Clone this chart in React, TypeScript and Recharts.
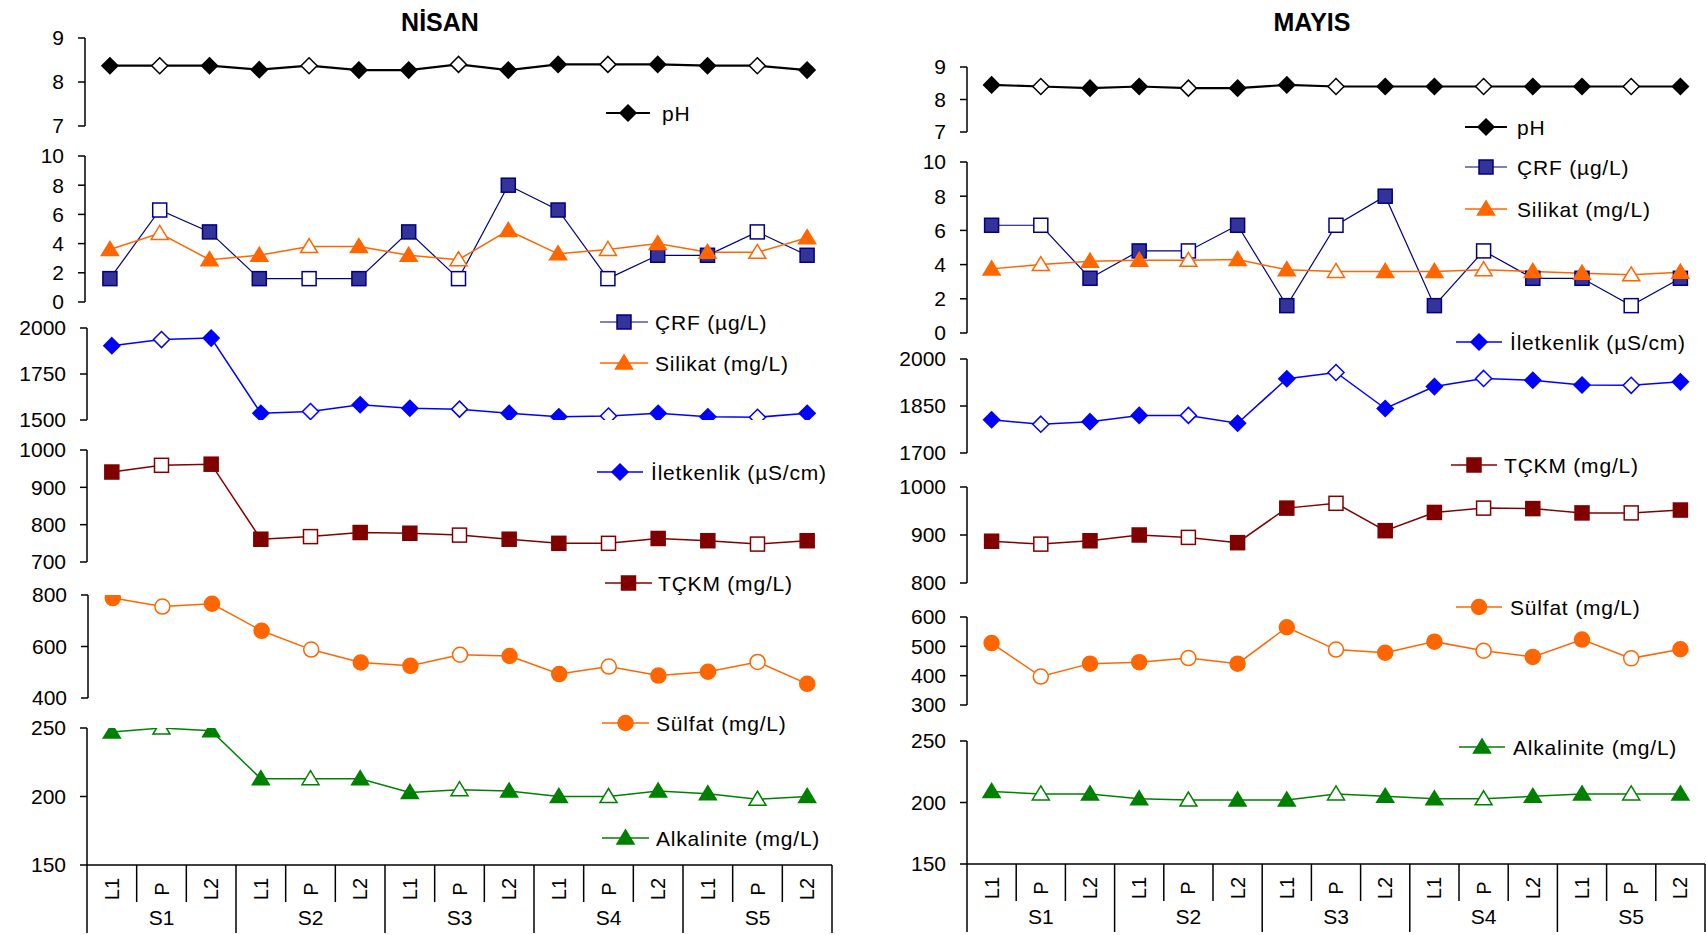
import React from 'react';
import { LineChart, Line, XAxis, YAxis } from 'recharts';

const FONT = "Arial, 'Liberation Sans', sans-serif";

const categories = ['L1', 'P', 'L2', 'L1', 'P', 'L2', 'L1', 'P', 'L2', 'L1', 'P', 'L2', 'L1', 'P', 'L2'];
const groups = ['S1', 'S2', 'S3', 'S4', 'S5'];
const titles = ['NİSAN', 'MAYIS'];
const seriesNames = ['pH', 'ÇRF (µg/L)', 'Silikat (mg/L)', 'İletkenlik (µS/cm)', 'TÇKM (mg/L)', 'Sülfat (mg/L)', 'Alkalinite (mg/L)'];

// NİSAN
const nisanPH = [8.37, 8.37, 8.37, 8.28, 8.37, 8.27, 8.27, 8.4, 8.27, 8.4, 8.4, 8.4, 8.37, 8.37, 8.27];
const nisanCRF = [1.6, 6.3, 4.8, 1.6, 1.6, 1.6, 4.8, 1.6, 8.0, 6.3, 1.6, 3.2, 3.2, 4.8, 3.2];
const nisanSilikat = [3.6, 4.7, 2.9, 3.2, 3.8, 3.8, 3.2, 2.9, 4.9, 3.3, 3.6, 4.0, 3.4, 3.4, 4.4];
const nisanIletkenlik = [1904, 1937, 1945, 1537, 1546, 1583, 1564, 1559, 1537, 1518, 1522, 1537, 1518, 1515, 1537];
const nisanTCKM = [941, 959, 962, 761, 768, 779, 777, 772, 761, 750, 750, 763, 757, 748, 757];
const nisanSulfat = [788, 755, 766, 661, 588, 538, 525, 568, 563, 493, 522, 487, 502, 540, 455];
const nisanAlkalinite = [247, 250, 248, 213, 213, 213, 203, 205, 204, 200, 200, 204, 202, 198, 200];

// MAYIS
const mayisPH = [8.45, 8.4, 8.35, 8.4, 8.35, 8.35, 8.45, 8.4, 8.4, 8.4, 8.4, 8.4, 8.4, 8.4, 8.4];
const mayisCRF = [6.3, 6.3, 3.2, 4.8, 4.8, 6.3, 1.6, 6.3, 8.0, 1.6, 4.8, 3.2, 3.2, 1.6, 3.2];
const mayisSilikat = [3.75, 4.0, 4.2, 4.25, 4.25, 4.3, 3.7, 3.6, 3.6, 3.6, 3.7, 3.6, 3.5, 3.4, 3.55];
const mayisIletkenlik = [1806, 1792, 1800, 1820, 1820, 1795, 1937, 1957, 1842, 1912, 1938, 1932, 1917, 1916, 1927];
const mayisTCKM = [887, 881, 888, 900, 895, 884, 956, 966, 909, 947, 956, 955, 946, 946, 952];
const mayisSulfat = [511, 397, 441, 446, 460, 441, 565, 489, 478, 516, 485, 464, 523, 459, 490];
const mayisAlkalinite = [209, 207, 207, 203, 202, 202, 202, 207, 205, 203, 203, 205, 207, 207, 207];

// tick values
const phTicks = [7, 8, 9];
const crfTicks = [0, 2, 4, 6, 8, 10];
const nisanIletTicks = [1500, 1750, 2000];
const nisanTckmTicks = [700, 800, 900, 1000];
const nisanSulfatTicks = [400, 600, 800];
const mayisIletTicks = [1700, 1850, 2000];
const mayisTckmTicks = [800, 900, 1000];
const mayisSulfatTicks = [300, 400, 500, 600];
const alkTicks = [150, 200, 250];

type Shape = 'diamond' | 'square' | 'triangle' | 'circle';
interface Style { shape: Shape; line: string; fill: string; edge: string; width: number; }

const styles: Style[] = [
  { shape: 'diamond', line: '#000000', fill: '#000000', edge: '#000000', width: 2.2 },
  { shape: 'square', line: '#000080', fill: '#333399', edge: '#000080', width: 1.2 },
  { shape: 'triangle', line: '#FF6600', fill: '#FF6600', edge: '#FF6600', width: 1.5 },
  { shape: 'diamond', line: '#0000FF', fill: '#0000FF', edge: '#0000FF', width: 1.5 },
  { shape: 'square', line: '#800000', fill: '#800000', edge: '#800000', width: 1.5 },
  { shape: 'circle', line: '#FF6600', fill: '#FF6600', edge: '#FF6600', width: 1.5 },
  { shape: 'triangle', line: '#008000', fill: '#008000', edge: '#008000', width: 1.5 },
];

function Marker({ cx, cy, st, hollow }: { cx: number; cy: number; st: Style; hollow: boolean }) {
  const fill = hollow ? '#FFFFFF' : st.fill;
  const stroke = st.edge;
  const sw = 1.5;
  if (st.shape === 'diamond') {
    const s = 8;
    return <polygon points={`${cx},${cy - s} ${cx + s},${cy} ${cx},${cy + s} ${cx - s},${cy}`} fill={fill} stroke={stroke} strokeWidth={sw} />;
  }
  if (st.shape === 'square') {
    const s = 7;
    return <rect x={cx - s} y={cy - s} width={2 * s} height={2 * s} fill={fill} stroke={stroke} strokeWidth={sw} />;
  }
  if (st.shape === 'triangle') {
    return <polygon points={`${cx},${cy - 8} ${cx + 8.5},${cy + 6} ${cx - 8.5},${cy + 6}`} fill={fill} stroke={stroke} strokeWidth={sw} />;
  }
  return <circle cx={cx} cy={cy} r={7.5} fill={fill} stroke={stroke} strokeWidth={sw} />;
}

interface ChartDef {
  x0: number; yTop: number; yBot: number; ticks: number[];
  series: { values: number[]; style: number }[];
  showX?: boolean;
}

const panels = [
  {
    left: 0, x1: 832,
    charts: [
      { x0: 85, yTop: 38, yBot: 126, ticks: phTicks, series: [{ values: nisanPH, style: 0 }] },
      { x0: 85, yTop: 156, yBot: 302, ticks: crfTicks, series: [{ values: nisanCRF, style: 1 }, { values: nisanSilikat, style: 2 }] },
      { x0: 87, yTop: 328, yBot: 420, ticks: nisanIletTicks, series: [{ values: nisanIletkenlik, style: 3 }] },
      { x0: 87, yTop: 450, yBot: 562, ticks: nisanTckmTicks, series: [{ values: nisanTCKM, style: 4 }] },
      { x0: 88, yTop: 595, yBot: 698, ticks: nisanSulfatTicks, series: [{ values: nisanSulfat, style: 5 }] },
      { x0: 87, yTop: 728, yBot: 865, ticks: alkTicks, series: [{ values: nisanAlkalinite, style: 6 }], showX: true },
    ] as ChartDef[],
  },
  {
    left: 860, x1: 1705,
    charts: [
      { x0: 967, yTop: 67, yBot: 132, ticks: phTicks, series: [{ values: mayisPH, style: 0 }] },
      { x0: 967, yTop: 162, yBot: 333, ticks: crfTicks, series: [{ values: mayisCRF, style: 1 }, { values: mayisSilikat, style: 2 }] },
      { x0: 967, yTop: 359, yBot: 453, ticks: mayisIletTicks, series: [{ values: mayisIletkenlik, style: 3 }] },
      { x0: 967, yTop: 487, yBot: 583, ticks: mayisTckmTicks, series: [{ values: mayisTCKM, style: 4 }] },
      { x0: 967, yTop: 617, yBot: 705, ticks: mayisSulfatTicks, series: [{ values: mayisSulfat, style: 5 }] },
      { x0: 967, yTop: 741, yBot: 864, ticks: alkTicks, series: [{ values: mayisAlkalinite, style: 6 }], showX: true },
    ] as ChartDef[],
  },
];

// legend placement: [panel][series] -> line start, line end, text x, y
const legendPos = [
  [
    [606, 650, 662, 113], [600, 648, 655, 322], [600, 648, 655, 363], [597, 643, 651, 472],
    [605, 652, 658, 583], [602, 649, 656, 723], [602, 649, 656, 838],
  ],
  [
    [1465, 1507, 1517, 127], [1465, 1507, 1517, 167], [1465, 1507, 1517, 209], [1456, 1502, 1510, 342],
    [1451, 1497, 1504, 465], [1456, 1502, 1510, 607], [1459, 1505, 1513, 747],
  ],
];
const titlePos = [[440, 22], [1312, 22]];

const MT = 14;
const XH = 72;

function SubChart({ def, left, x1 }: { def: ChartDef; left: number; x1: number }) {
  const plotH = def.yBot - def.yTop;
  const mb = def.showX ? 0 : 14;
  const height = MT + plotH + (def.showX ? XH : mb);
  const rightMargin = 2;
  const width = x1 - left + rightMargin;
  const bw = (x1 - def.x0) / categories.length;
  const axisY = MT + plotH;
  const data = categories.map((c, i) => {
    const row: any = { cat: c };
    def.series.forEach((s, k) => { row['v' + k] = s.values[i]; });
    return row;
  });
  const n = categories.length;
  const renderTick = (p: any) => {
    const { x, index, payload } = p;
    const l = x - bw / 2;
    const r = x + bw / 2;
    const groupStart = index % 3 === 0;
    return (
      <g key={'t' + index}>
        <line x1={l} x2={l} y1={axisY} y2={axisY + (groupStart ? 68 : 37)} stroke="#000" strokeWidth={1.5} />
        {index === n - 1 && <line x1={r} x2={r} y1={axisY} y2={axisY + 68} stroke="#000" strokeWidth={1.5} />}
        <text transform={`translate(${x},${axisY + 24}) rotate(-90)`} textAnchor="middle" dominantBaseline="central" fontSize={20} fontFamily={FONT} fill="#000">{payload.value}</text>
        {index % 3 === 1 && (
          <text x={x} y={axisY + 52} textAnchor="middle" dominantBaseline="central" fontSize={21} fontFamily={FONT} fill="#000">{groups[Math.floor(index / 3)]}</text>
        )}
      </g>
    );
  };
  const tks = def.ticks;
  return (
    <div style={{ position: 'absolute', left, top: def.yTop - MT }}>
      <LineChart width={width} height={height} data={data} margin={{ top: MT, right: rightMargin, bottom: mb, left: 0 }}>
        <XAxis
          dataKey="cat"
          hide={!def.showX}
          padding={{ left: bw / 2, right: bw / 2 }}
          interval={0}
          height={XH}
          axisLine={{ stroke: '#000', strokeWidth: 1.5 }}
          tickLine={false}
          tick={renderTick}
        />
        <YAxis
          type="number"
          width={def.x0 - left}
          domain={[tks[0], tks[tks.length - 1]]}
          ticks={tks}
          interval={0}
          allowDataOverflow
          axisLine={{ stroke: '#000', strokeWidth: 1.5 }}
          tickLine={{ stroke: '#000', strokeWidth: 1.5 }}
          tickSize={7}
          tickMargin={14}
          tick={{ fontSize: 21, fill: '#000', fontFamily: FONT }}
        />
        {def.series.map((s, k) => {
          const st = styles[s.style];
          return (
            <Line
              key={k}
              dataKey={'v' + k}
              type="linear"
              stroke={st.line}
              strokeWidth={st.width}
              isAnimationActive={false}
              activeDot={false}
              dot={(p: any) => <Marker key={'d' + k + '-' + p.index} cx={p.cx} cy={p.cy} st={st} hollow={p.index % 3 === 1} />}
            />
          );
        })}
      </LineChart>
    </div>
  );
}

export default function App() {
  return (
    <div style={{ position: 'fixed', left: 0, top: 0, width: 1706, height: 935, background: '#FFFFFF', overflow: 'hidden', fontFamily: FONT }}>
      {panels.map((p, pi) => (
        <React.Fragment key={pi}>
          {p.charts.map((c, ci) => <SubChart key={ci} def={c} left={p.left} x1={p.x1} />)}
        </React.Fragment>
      ))}
      <svg width={1706} height={935} style={{ position: 'absolute', left: 0, top: 0, pointerEvents: 'none' }}>
        {titles.map((t, i) => (
          <text key={t} x={titlePos[i][0]} y={titlePos[i][1]} textAnchor="middle" dominantBaseline="central" fontSize={25} fontWeight="bold" fontFamily={FONT} fill="#000">{t}</text>
        ))}
        {legendPos.map((arr, pi) => arr.map((lp, si) => {
          const st = styles[si];
          const [a, b, tx, y] = lp;
          return (
            <g key={pi + '-' + si}>
              <line x1={a} x2={b} y1={y} y2={y} stroke={st.line} strokeWidth={st.width} />
              <Marker cx={(a + b) / 2} cy={y} st={st} hollow={false} />
              <text x={tx} y={y} dominantBaseline="central" fontSize={21} letterSpacing={0.8} fontFamily={FONT} fill="#000">{seriesNames[si]}</text>
            </g>
          );
        }))}
      </svg>
    </div>
  );
}
